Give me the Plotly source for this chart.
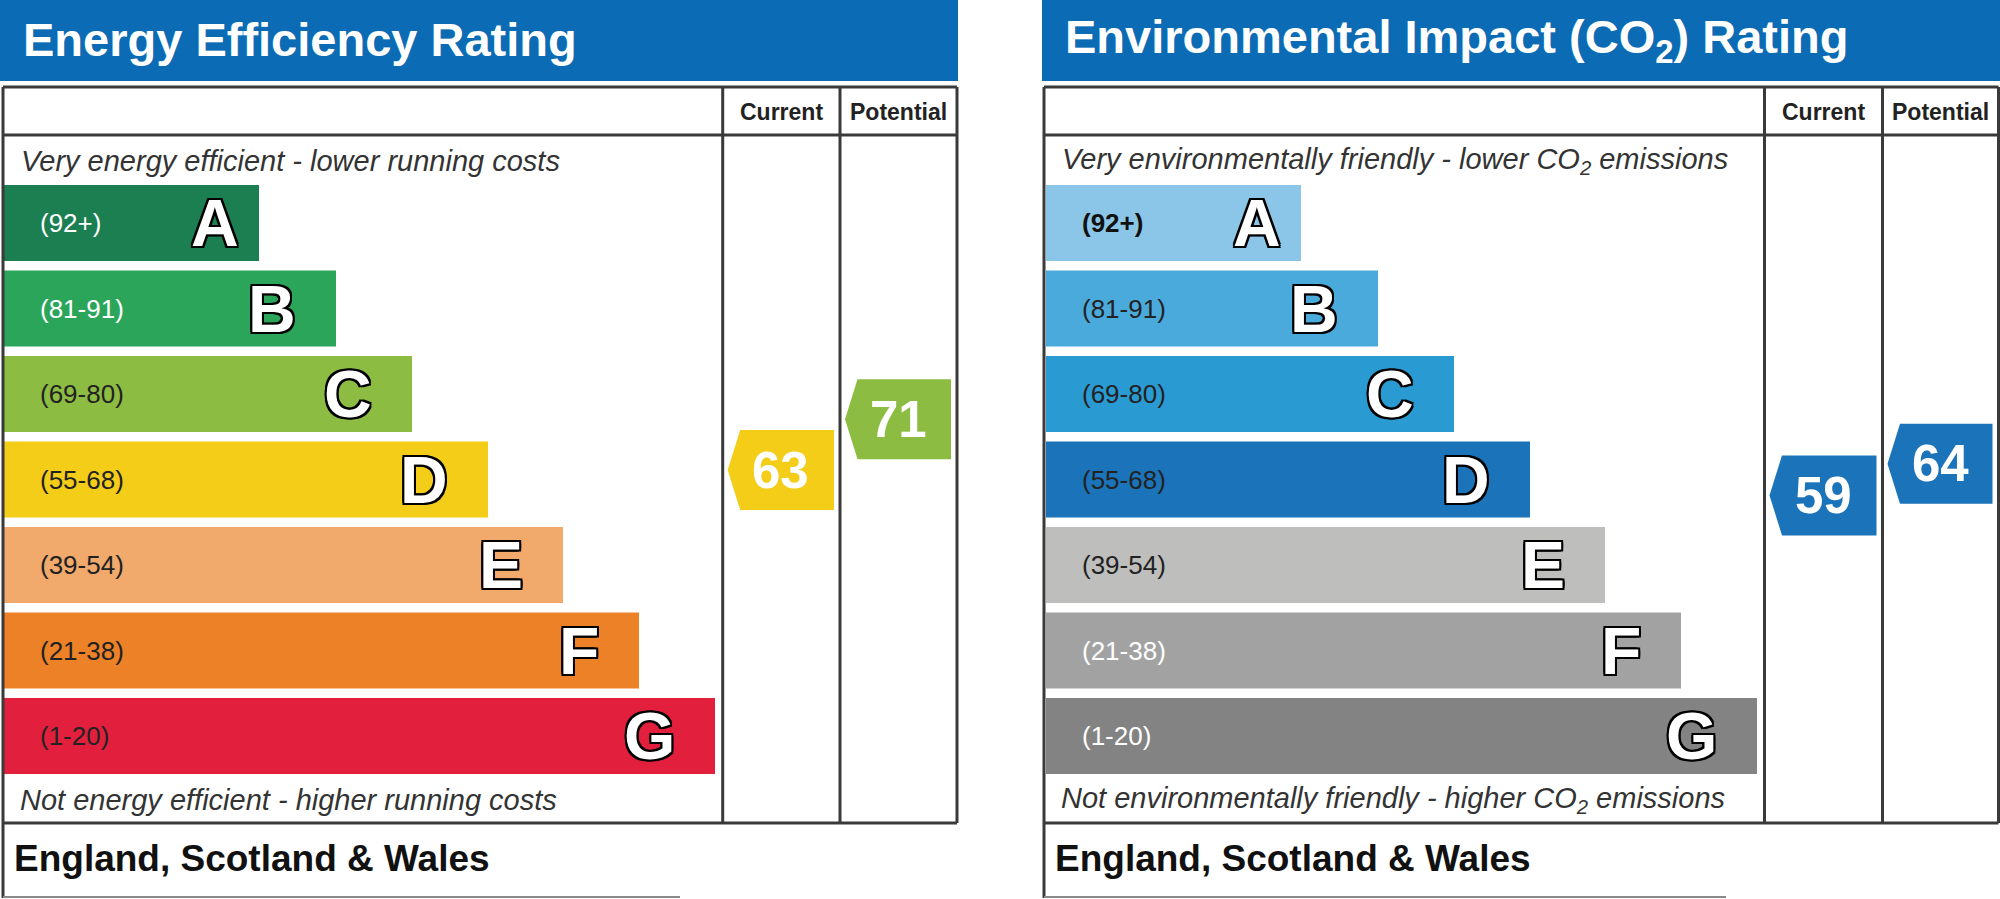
import plotly.graph_objects as go

# --- data ---
bands = ["A", "B", "C", "D", "E", "F", "G"]
band_ranges = ["(92+)", "(81-91)", "(69-80)", "(55-68)", "(39-54)", "(21-38)", "(1-20)"]
bar_lengths = [255, 332, 408, 484, 559, 635, 711]

energy_colors = ["#1b7f52", "#2ba55a", "#8dbc43", "#f4cd19", "#f1a96c", "#ed8127", "#e2203d"]
co2_colors = ["#8bc5e7", "#4baadc", "#2a9ad2", "#1b73b9", "#bebebd", "#a2a2a2", "#838383"]
energy_label_colors = ["white", "white", "#222222", "#222222", "#222222", "#222222", "#222222"]
co2_label_colors = ["#111111", "#222222", "#222222", "#222222", "#222222", "white", "white"]

energy_current = 63
energy_potential = 71
co2_current = 59
co2_potential = 64

# --- layout constants (pixels) ---
W, H = 2000, 899
FONT = "Liberation Sans, Arial, sans-serif"
LINE = "#3a3a3a"
BLUE = "#0b6bb4"
band_top_px, band_step_px, band_h_px = 223, 85.5, 76
rating_px, rating_ref, px_per_pt = 462.1, 64.25, 6.34


def py(v):
    # pixel row -> paper fraction
    return 1 - v / H


panels = [
    dict(left=3, cur=722.7, pot=840, right=957, bar_left=4, bar_top=0, bar_right=958,
         title="Energy Efficiency Rating",
         top_text="Very energy efficient - lower running costs",
         bottom_text="Not energy efficient - higher running costs",
         colors=energy_colors, label_colors=energy_label_colors, bold_first=False,
         current=energy_current, potential=energy_potential,
         cur_color=energy_colors[3], pot_color=energy_colors[2], footer_right=680),
    dict(left=1044, cur=1764.5, pot=1882.5, right=1998.5, bar_left=1046, bar_top=1042, bar_right=2000,
         title="Environmental Impact (CO<sub>2</sub>) Rating",
         top_text="Very environmentally friendly - lower CO<sub>2</sub> emissions",
         bottom_text="Not environmentally friendly - higher CO<sub>2</sub> emissions",
         colors=co2_colors, label_colors=co2_label_colors, bold_first=True,
         current=co2_current, potential=co2_potential,
         cur_color=co2_colors[3], pot_color=co2_colors[3], footer_right=1726),
]

letter_pad = [18, 38, 38, 38, 38, 38, 38]

fig = go.Figure()
shapes = []
annotations = []

outline = ("-2px -2px 0 #000, 2px -2px 0 #000, -2px 2px 0 #000, 2px 2px 0 #000, "
           "0 2px 0 #000, 0 -2px 0 #000, 2px 0 0 #000, -2px 0 0 #000")

for p in panels:
    idx = list(range(len(bands)))
    fig.add_trace(go.Bar(
        x=bar_lengths, base=[p["bar_left"]] * len(bands), y=idx,
        orientation="h", width=band_h_px / band_step_px,
        marker=dict(color=p["colors"], line=dict(width=0)),
        hoverinfo="skip", showlegend=False,
    ))

    # range labels and big letters
    for i, (b, r, ln) in enumerate(zip(bands, band_ranges, bar_lengths)):
        bold = p["bold_first"] and i == 0
        annotations.append(dict(
            x=p["bar_left"] + 34, y=i, xref="x", yref="y", text=r, showarrow=False,
            xanchor="left", yanchor="middle",
            font=dict(family=FONT, size=26, color=p["label_colors"][i],
                      weight="bold" if bold else "normal"),
        ))
        annotations.append(dict(
            x=p["bar_left"] + ln - letter_pad[i], y=i, xref="x", yref="y", text=b,
            showarrow=False, xanchor="right", yanchor="middle",
            font=dict(family=FONT, size=66, color="white", weight="bold", shadow=outline),
        ))

    # current / potential arrows on the rating scale
    hh = (band_h_px / 2 + 2) / px_per_pt
    for val, col_l, col_r, colr in [(p["current"], p["cur"], p["pot"], p["cur_color"]),
                                    (p["potential"], p["pot"], p["right"], p["pot_color"])]:
        tip = col_l + 5
        x1 = col_r - 6
        fig.add_trace(go.Scatter(
            x=[tip, tip + 12.5, x1, x1, tip + 12.5, tip],
            y=[val, val + hh, val + hh, val - hh, val - hh, val],
            yaxis="y2", mode="lines", fill="toself", fillcolor=colr,
            line=dict(width=0, color=colr), hoverinfo="skip", showlegend=False,
        ))
        annotations.append(dict(
            x=(tip + x1) / 2, y=val, xref="x", yref="y2", text=str(val), showarrow=False,
            xanchor="center", yanchor="middle",
            font=dict(family=FONT, size=51, color="white", weight="bold"),
        ))

    # title bar
    shapes.append(dict(type="rect", xref="x", yref="paper", x0=p["bar_top"], x1=p["bar_right"],
                       y0=py(81), y1=py(0), fillcolor=BLUE, line=dict(width=0), layer="below"))
    annotations.append(dict(
        x=p["bar_top"] + 21, y=py(40), xref="x", yref="paper", text=p["title"], showarrow=False,
        xanchor="left", yanchor="middle",
        font=dict(family=FONT, size=47, color="white", weight="bold"),
    ))

    # table frame
    lw = 3
    for x0, y0, x1, y1 in [
        (p["left"], 87, p["right"], 87),
        (p["left"], 135, p["right"], 135),
        (p["left"], 823, p["right"], 823),
        (p["left"], 87, p["left"], 898),
        (p["right"], 87, p["right"], 823),
        (p["cur"], 87, p["cur"], 823),
        (p["pot"], 87, p["pot"], 823),
    ]:
        shapes.append(dict(type="line", xref="x", yref="paper", x0=x0, x1=x1,
                           y0=py(y0), y1=py(y1), line=dict(color=LINE, width=lw)))
    shapes.append(dict(type="line", xref="x", yref="paper", x0=p["left"], x1=p["footer_right"],
                       y0=py(897), y1=py(897), line=dict(color="#8a8a8a", width=2)))

    # headers
    for txt, a, b in [("Current", p["cur"], p["pot"]), ("Potential", p["pot"], p["right"])]:
        annotations.append(dict(
            x=(a + b) / 2, y=py(112), xref="x", yref="paper", text=txt, showarrow=False,
            xanchor="center", yanchor="middle",
            font=dict(family=FONT, size=23, color="#222222", weight="bold"),
        ))

    # italic notes and footer
    annotations.append(dict(
        x=p["left"] + 16, y=py(161), xref="x", yref="paper", text="<i>" + p["top_text"] + "</i>",
        showarrow=False, xanchor="left", yanchor="middle",
        font=dict(family=FONT, size=29, color="#333333"),
    ))
    annotations.append(dict(
        x=p["left"] + 15, y=py(800), xref="x", yref="paper", text="<i>" + p["bottom_text"] + "</i>",
        showarrow=False, xanchor="left", yanchor="middle",
        font=dict(family=FONT, size=29, color="#333333"),
    ))
    annotations.append(dict(
        x=p["left"] + 9, y=py(858), xref="x", yref="paper", text="England, Scotland &amp; Wales",
        showarrow=False, xanchor="left", yanchor="middle",
        font=dict(family=FONT, size=37, color="#111111", weight="bold"),
    ))

y_top_idx = -band_top_px / band_step_px
y_bot_idx = (H - band_top_px) / band_step_px
r_top = rating_ref + rating_px / px_per_pt
r_bot = rating_ref - (H - rating_px) / px_per_pt

fig.update_layout(
    width=W, height=H,
    margin=dict(l=0, r=0, t=0, b=0),
    paper_bgcolor="white", plot_bgcolor="white",
    barmode="overlay",
    xaxis=dict(range=[0, W], visible=False, fixedrange=True),
    yaxis=dict(range=[y_bot_idx, y_top_idx], visible=False, fixedrange=True),
    yaxis2=dict(range=[r_bot, r_top], overlaying="y", visible=False, fixedrange=True),
    shapes=shapes,
    annotations=annotations,
    font=dict(family=FONT),
)

fig.write_html("out.html", config={"displayModeBar": False, "staticPlot": True},
               post_script="document.body.style.margin='0';")
